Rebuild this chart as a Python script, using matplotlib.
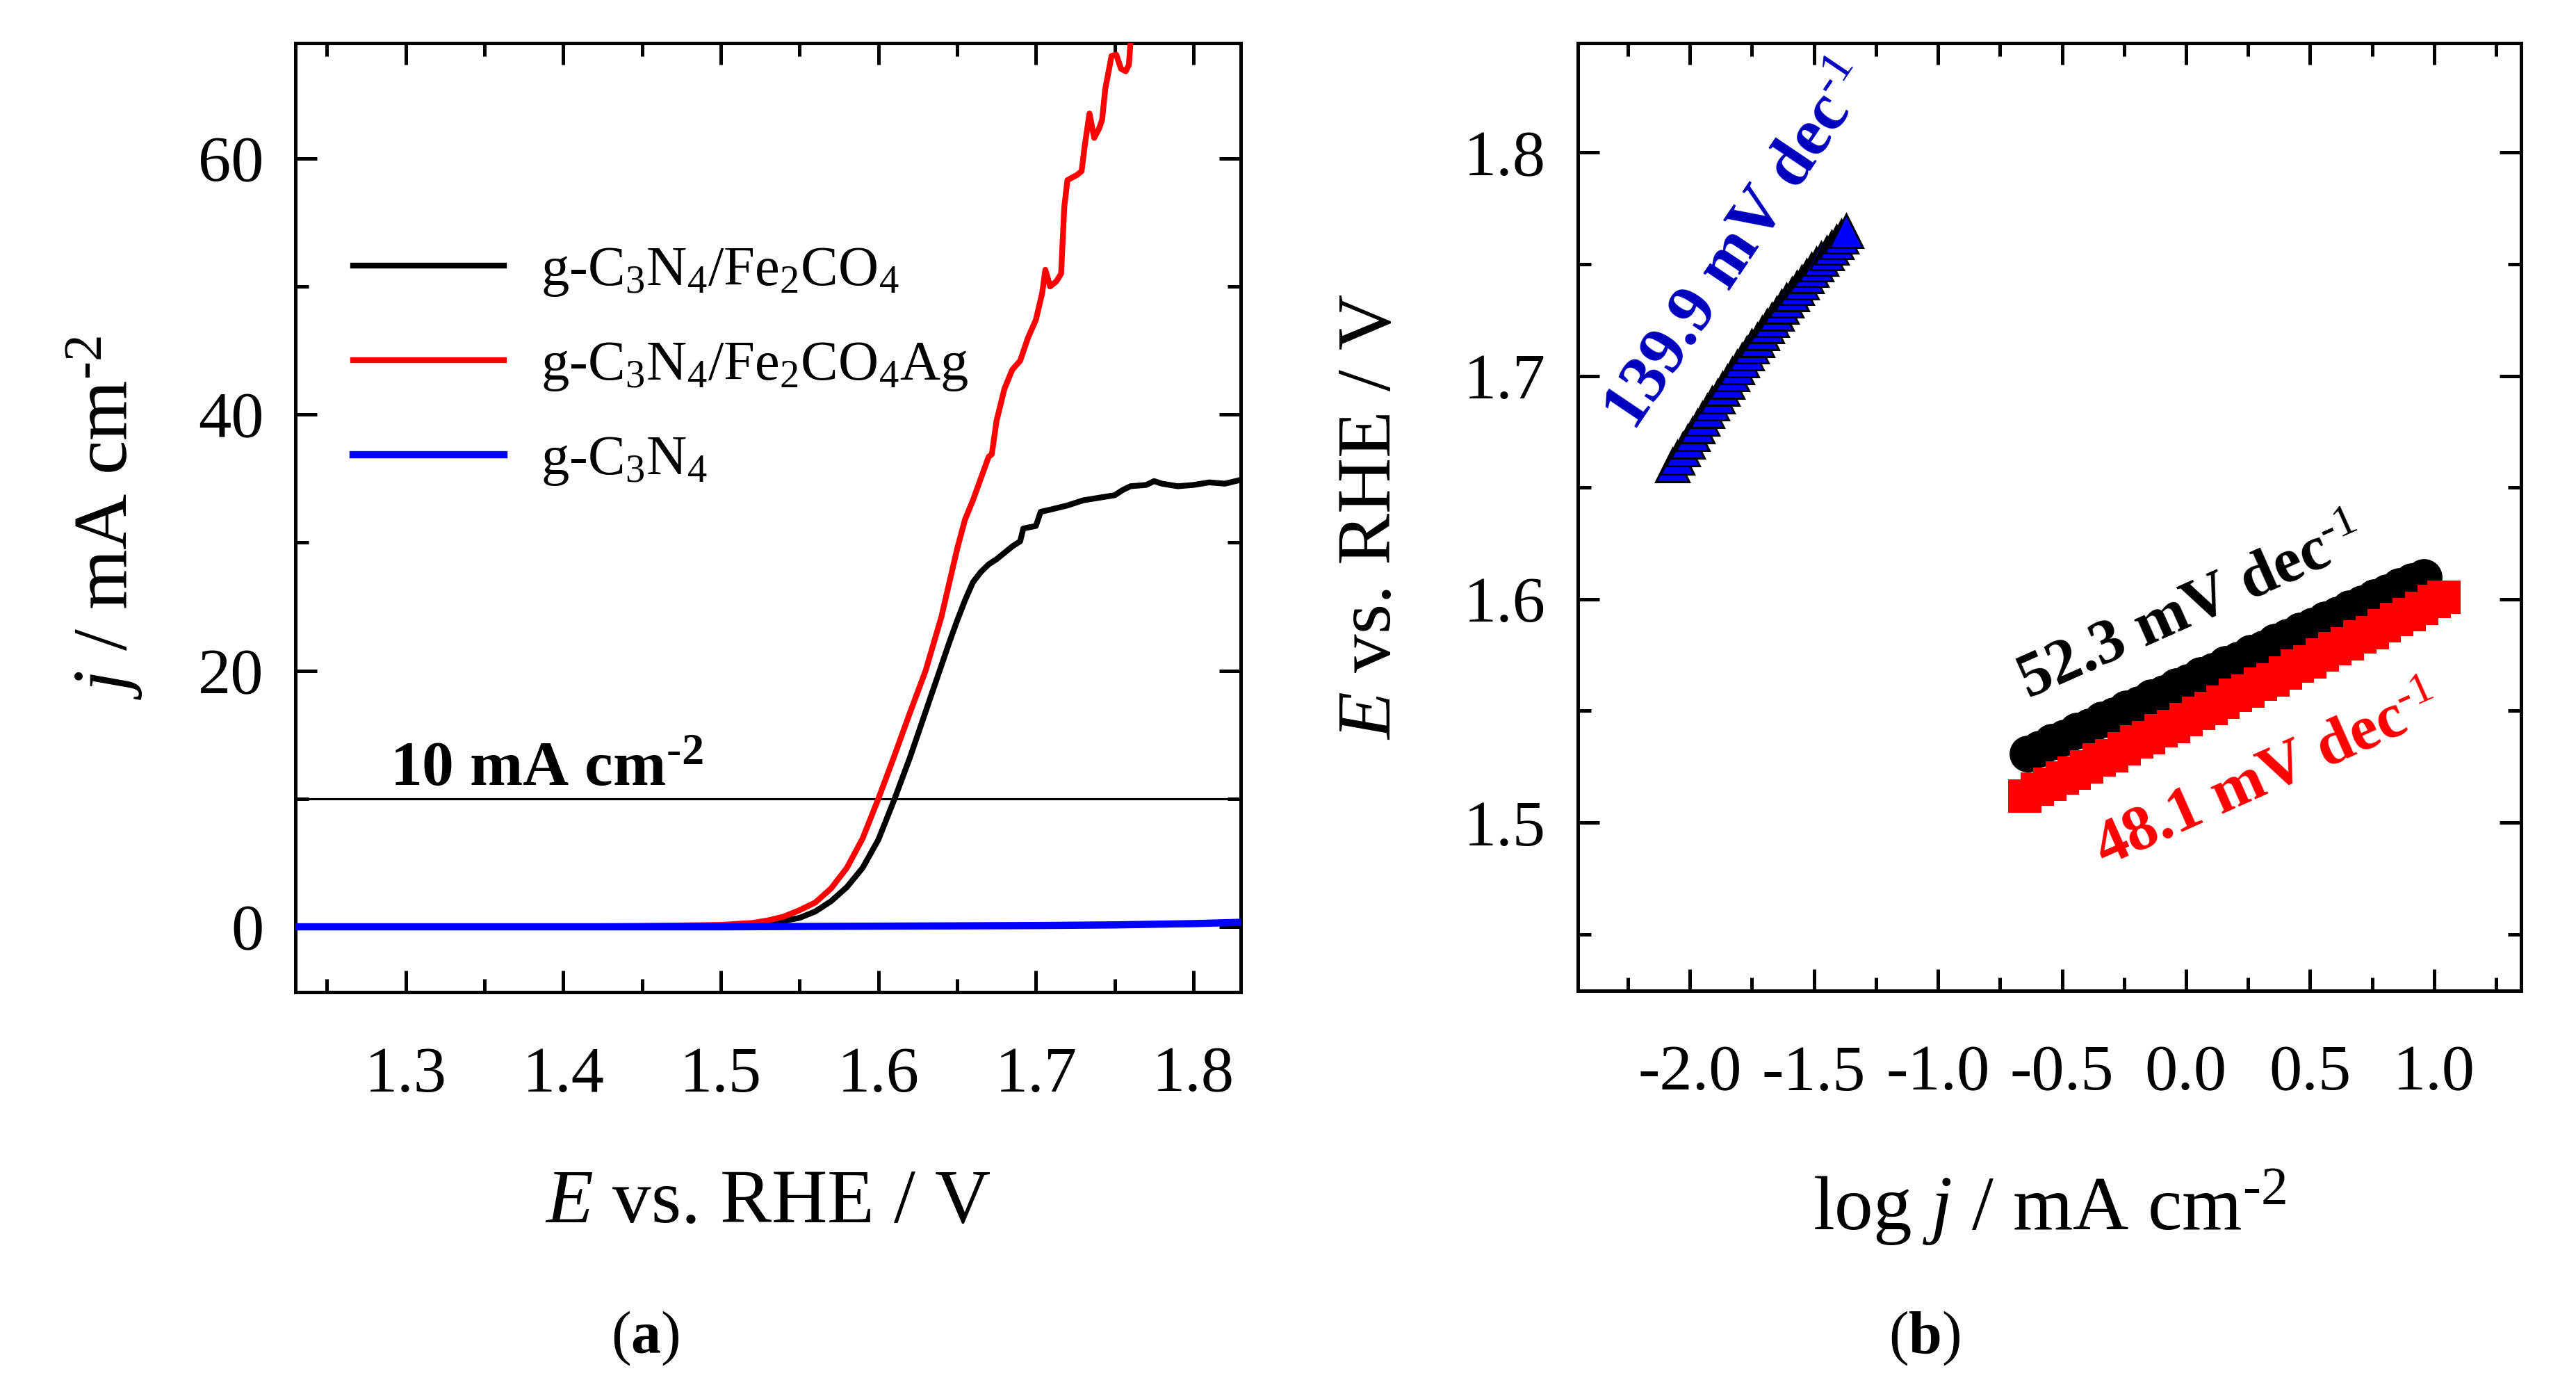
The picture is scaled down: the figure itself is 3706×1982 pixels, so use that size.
import matplotlib
matplotlib.use('Agg')
from matplotlib import pyplot as plt
from matplotlib.ticker import MultipleLocator, FormatStrFormatter

plt.rcParams['font.family'] = 'Liberation Serif'
plt.rcParams['mathtext.fontset'] = 'custom'
plt.rcParams['mathtext.rm'] = 'Liberation Serif'
plt.rcParams['mathtext.it'] = 'Liberation Serif:italic'
plt.rcParams['mathtext.bf'] = 'Liberation Serif:bold'
plt.rcParams['axes.unicode_minus'] = False

# (a) polarisation curves
E_fe = [1.23, 1.30, 1.40, 1.45, 1.50, 1.52, 1.535, 1.55, 1.56, 1.57, 1.58, 1.59,
        1.60, 1.61, 1.62, 1.63, 1.64, 1.645, 1.65, 1.655, 1.66, 1.665, 1.67, 1.675,
        1.68, 1.685, 1.69, 1.692, 1.70, 1.703, 1.71, 1.72, 1.73, 1.74, 1.75, 1.755,
        1.76, 1.77, 1.775, 1.78, 1.79, 1.80, 1.81, 1.82, 1.83]
j_fe = [0.0, 0.0, 0.02, 0.05, 0.1, 0.2, 0.35, 0.7, 1.2, 2.0, 3.1, 4.6,
        6.8, 9.9, 13.2, 16.8, 20.4, 22.2, 23.9, 25.5, 26.9, 27.7, 28.3, 28.7,
        29.2, 29.7, 30.1, 31.1, 31.3, 32.4, 32.6, 32.9, 33.3, 33.5, 33.7, 34.1,
        34.4, 34.5, 34.8, 34.6, 34.4, 34.5, 34.7, 34.6, 34.9]

E_ag = [1.23, 1.40, 1.45, 1.50, 1.52, 1.53, 1.54, 1.55, 1.56, 1.57, 1.58, 1.59,
        1.60, 1.61, 1.62, 1.63, 1.64, 1.65, 1.655, 1.66, 1.665, 1.67, 1.672, 1.675,
        1.68, 1.685, 1.69, 1.695, 1.70, 1.704, 1.706, 1.709, 1.713, 1.716, 1.718, 1.720,
        1.726, 1.729, 1.731, 1.734, 1.737, 1.740, 1.742, 1.744, 1.748, 1.751, 1.754,
        1.757, 1.759, 1.760, 1.761]
j_ag = [0.0, 0.03, 0.07, 0.15, 0.3, 0.5, 0.8, 1.3, 1.9, 3.0, 4.6, 6.9,
        10.0, 13.3, 16.7, 20.0, 24.2, 29.5, 31.8, 33.3, 35.0, 36.7, 36.9, 39.5,
        42.0, 43.5, 44.2, 46.0, 47.4, 49.5, 51.3, 50.0, 50.4, 51.0, 56.2, 58.3,
        58.7, 59.0, 61.0, 63.5, 61.6, 62.3, 63.0, 65.4, 68.0, 68.1, 67.0,
        66.8, 67.3, 69.0, 70.5]

E_cn = [1.23, 1.40, 1.50, 1.60, 1.70, 1.75, 1.80, 1.83]
j_cn = [0.0, 0.0, 0.0, 0.05, 0.1, 0.15, 0.25, 0.35]

labels_a = [r'g-C$_3$N$_4$/Fe$_2$CO$_4$', r'g-C$_3$N$_4$/Fe$_2$CO$_4$Ag', r'g-C$_3$N$_4$']

# (b) Tafel plots
logj_fe = [-0.64, -0.59, -0.54, -0.49, -0.44, -0.39, -0.34, -0.29, -0.24, -0.19, -0.14,
           -0.09, -0.04, 0.01, 0.06, 0.11, 0.16, 0.21, 0.26, 0.31, 0.36, 0.41, 0.46,
           0.51, 0.56, 0.61, 0.66, 0.71, 0.76, 0.81, 0.86, 0.91, 0.96]
Et_fe = [1.531, 1.533, 1.536, 1.538, 1.541, 1.543, 1.546, 1.548, 1.551, 1.553, 1.556,
         1.558, 1.561, 1.563, 1.566, 1.568, 1.571, 1.573, 1.576, 1.578, 1.581, 1.583, 1.586,
         1.588, 1.591, 1.593, 1.596, 1.598, 1.601, 1.603, 1.606, 1.608, 1.610]

logj_ag = [-0.65, -0.60, -0.55, -0.50, -0.45, -0.40, -0.35, -0.30, -0.25, -0.20, -0.15,
           -0.10, -0.05, 0.00, 0.05, 0.10, 0.15, 0.20, 0.25, 0.30, 0.35, 0.40, 0.45,
           0.50, 0.55, 0.60, 0.65, 0.70, 0.75, 0.80, 0.85, 0.90, 0.95, 1.00, 1.04]
Et_ag = [1.512, 1.515, 1.517, 1.520, 1.522, 1.525, 1.528, 1.530, 1.533, 1.536, 1.538,
         1.541, 1.543, 1.546, 1.549, 1.551, 1.554, 1.557, 1.559, 1.562, 1.564, 1.567, 1.570,
         1.572, 1.575, 1.578, 1.580, 1.583, 1.585, 1.588, 1.591, 1.593, 1.596, 1.599, 1.601]

logj_cn = [-2.07, -2.05, -2.03, -2.01, -1.99, -1.97, -1.95, -1.93, -1.91, -1.89, -1.87,
           -1.85, -1.83, -1.81, -1.79, -1.77, -1.75, -1.73, -1.71, -1.69, -1.67, -1.65,
           -1.63, -1.61, -1.59, -1.57, -1.55, -1.53, -1.51, -1.49, -1.47, -1.45, -1.43,
           -1.41, -1.39, -1.37]
Et_cn = [1.6600, 1.6636, 1.6671, 1.6706, 1.6741, 1.6776, 1.6810, 1.6844, 1.6877, 1.6910,
         1.6943, 1.6975, 1.7007, 1.7039, 1.7070, 1.7101, 1.7132, 1.7162, 1.7192, 1.7222,
         1.7251, 1.7280, 1.7309, 1.7337, 1.7365, 1.7393, 1.7420, 1.7447, 1.7474, 1.7500,
         1.7526, 1.7551, 1.7576, 1.7601, 1.7626, 1.7650]

fig = plt.figure(figsize=(37.06, 19.82), dpi=100)
ax1 = fig.add_axes([0.11468, 0.28002, 0.36697, 0.68870])
ax2 = fig.add_axes([0.61252, 0.28103, 0.36616, 0.68769])

ax1.plot(E_fe, j_fe, color='black', lw=6, label=labels_a[0], zorder=3)
ax1.plot(E_ag, j_ag, color='#ff0000', lw=6, label=labels_a[1], zorder=3)
ax1.plot(E_cn, j_cn, color='#0000ff', lw=7.5, label=labels_a[2], zorder=4)
ax1.axhline(10, color='black', lw=2.2, zorder=2)
ax1.text(1.2898, 11.0, r'10 mA cm$^{\mathbf{\text{-}2}}$', fontsize=66, fontweight='bold',
         va='baseline', ha='left')
ax1.set_xlim(1.23, 1.83)
ax1.set_ylim(-5.1, 69)
ax1.xaxis.set_major_locator(MultipleLocator(0.1))
ax1.xaxis.set_minor_locator(MultipleLocator(0.05))
ax1.yaxis.set_major_locator(MultipleLocator(20))
ax1.yaxis.set_minor_locator(MultipleLocator(10))
ax1.xaxis.set_major_formatter(FormatStrFormatter('%.1f'))
ax1.set_xlabel(r'$\mathit{E}$ vs. RHE / V', fontsize=80, labelpad=66)
ax1.set_ylabel(r'$\mathit{j}$ / mA cm$^{\text{-}2}$', fontsize=80, labelpad=55)
ax1.legend(loc='upper left', bbox_to_anchor=(0.061, 0.786), frameon=False, fontsize=58,
           handlelength=2.7, handletextpad=0.65, labelspacing=0.75, borderpad=0,
           borderaxespad=0)

ax2.plot(logj_fe, Et_fe, 'o', color='black', ms=38, mew=0, zorder=3)
ax2.plot(logj_ag, Et_ag, 's', color='#ff0000', ms=35, mew=0, zorder=4)
ax2.plot(logj_cn, Et_cn, '^', mfc='#0000ff', mec='black', ms=34, mew=2.2, zorder=3)
ax2.text(-1.80, 1.758, r'139.9 mV dec$^{\text{-}1}$', color='#0000be', fontsize=70,
         fontweight='bold', rotation=56, ha='center', va='center', rotation_mode='anchor')
ax2.text(0.02, 1.595, r'52.3 mV dec$^{\text{-}1}$', color='black', fontsize=66,
         fontweight='bold', rotation=24, ha='center', va='center', rotation_mode='anchor')
ax2.text(0.33, 1.520, r'48.1 mV dec$^{\text{-}1}$', color='#ff0000', fontsize=66,
         fontweight='bold', rotation=24, ha='center', va='center', rotation_mode='anchor')
ax2.set_xlim(-2.452, 1.351)
ax2.set_ylim(1.4247, 1.849)
ax2.xaxis.set_major_locator(MultipleLocator(0.5))
ax2.xaxis.set_minor_locator(MultipleLocator(0.25))
ax2.yaxis.set_major_locator(MultipleLocator(0.1))
ax2.yaxis.set_minor_locator(MultipleLocator(0.05))
ax2.xaxis.set_major_formatter(FormatStrFormatter('%.1f'))
ax2.yaxis.set_major_formatter(FormatStrFormatter('%.1f'))
ax2.set_xlabel(r'log $\mathit{j}$ / mA cm$^{\text{-}2}$', fontsize=80, labelpad=66)
ax2.set_ylabel(r'$\mathit{E}$ vs. RHE / V', fontsize=80, labelpad=60)

for ax in (ax1, ax2):
    for s in ax.spines.values():
        s.set_linewidth(3.6)
    ax.tick_params(which='both', direction='in', top=True, right=True, width=3.6,
                   labelsize=68)
    ax.tick_params(which='major', length=22)
    ax.tick_params(which='minor', length=14)
    ax.tick_params(axis='x', which='both', pad=56)
    ax.tick_params(axis='y', which='both', pad=33)

fig.text(928 / 3706, 1 - 1925 / 1982, r'($\mathbf{a}$)', fontsize=62, ha='center', va='center')
fig.text(2769 / 3706, 1 - 1925 / 1982, r'($\mathbf{b}$)', fontsize=62, ha='center', va='center')

fig.savefig('out.png', dpi=100)
